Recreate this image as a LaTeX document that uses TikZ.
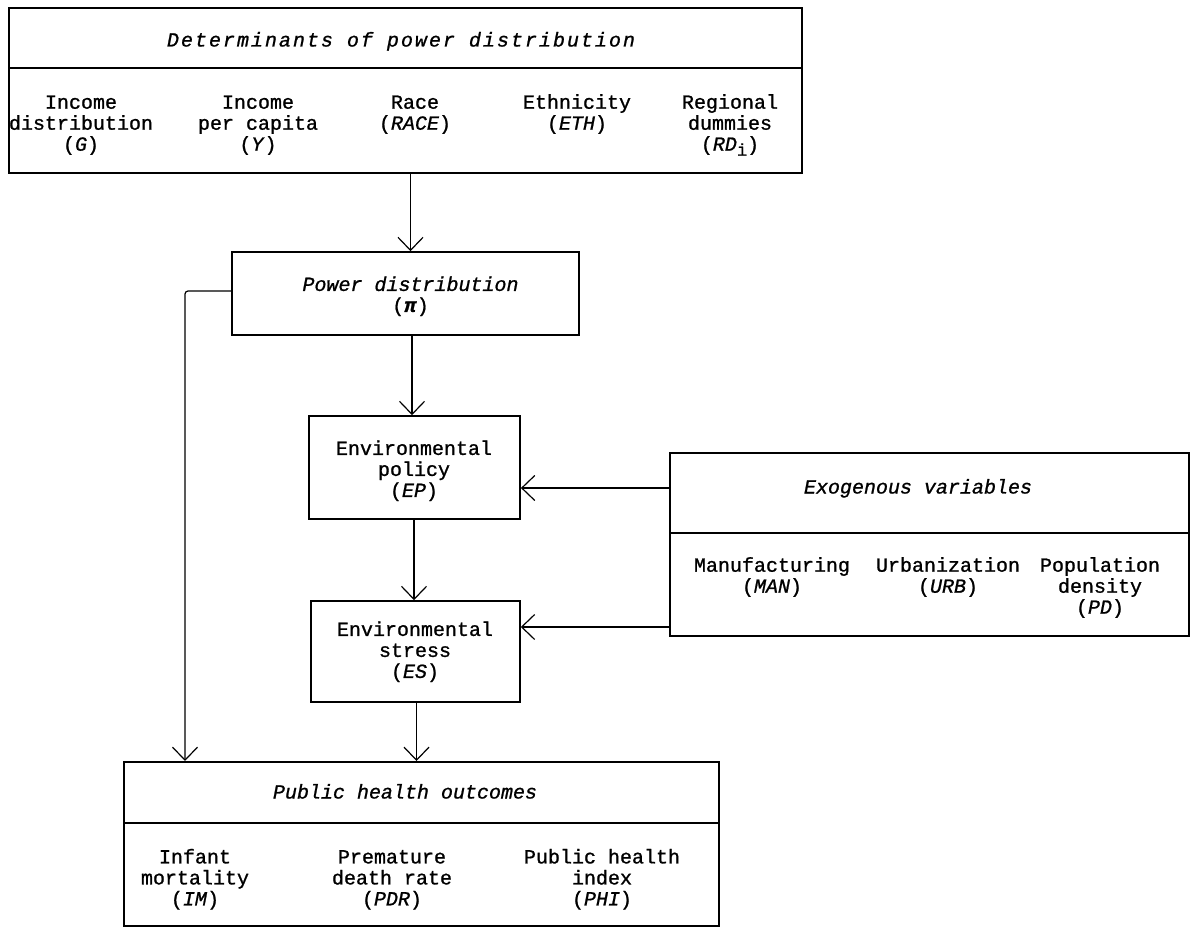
\documentclass[tikz,border=0pt]{standalone}
\usepackage{fontspec}
\setmainfont[FakeBold=1.0]{Liberation Mono}
\usetikzlibrary{arrows.meta}
\begin{document}
\begin{tikzpicture}[x=1pt,y=-1pt,
  box/.style={draw, line width=1.6pt, inner sep=0pt},
  txt/.style={inner sep=0pt, align=center, font=\fontsize{20}{21}\selectfont},
  item/.style={txt, anchor=north},
  divider/.style={line width=1.6pt},
  conn/.style={line width=1.2pt},
  arr/.style={conn, -{Straight Barb[length=13pt,width=25pt,line width=1.2pt]}}]
\useasboundingbox[fill=white] (0,0) rectangle (1191,928);

% ---------- determinants box ----------
\node[box, anchor=north west, minimum width=793pt, minimum height=165pt] (det) at (8,7) {};
\draw[divider] (8,68) -- (801,68);
\node[txt, anchor=base] (dett) at (402,46.5) {\addfontfeatures{LetterSpace=10}\textit{Determinants of power distribution}};
\node[item] (g) at (81,93.8) {\strut Income\\\strut distribution\\\strut(\textit{G})};
\node[item] (y) at (258,93.8) {\strut Income\\\strut per capita\\\strut(\textit{Y})};
\node[item] (race) at (415,93.8) {\strut Race\\\strut(\textit{RACE})};
\node[item] (eth) at (577,93.8) {\strut Ethnicity\\\strut(\textit{ETH})};
\node[item] (rd) at (730,93.8) {\strut Regional\\\strut dummies\\\strut(\textit{RD}\raisebox{-5pt}{\fontsize{17}{17}\selectfont i})};

% ---------- power distribution ----------
\node[box, minimum width=347pt, minimum height=83pt] (pow) at (405.5,293.5) {};
\node[item] (powt) at (410.5,276) {\strut\textit{Power distribution}\\\strut(\textbf{\textit{π}})};

% ---------- environmental policy / stress ----------
\node[box, minimum width=211pt, minimum height=103pt] (ep) at (414.6,467.5) {};
\node[item] (ept) at (414,440) {\strut Environmental\\\strut policy\\\strut(\textit{EP})};
\node[box, minimum width=209pt, minimum height=101pt] (es) at (415.5,651.5) {};
\node[item] (est) at (415,621) {\strut Environmental\\\strut stress\\\strut(\textit{ES})};

% ---------- exogenous variables ----------
\node[box, anchor=north west, minimum width=519pt, minimum height=183pt] (exo) at (669,452) {};
\draw[divider] (669,533) -- (1188,533);
\node[txt, anchor=base] (exot) at (918,493.5) {\textit{Exogenous variables}};
\node[item] (man) at (772,556.8) {\strut Manufacturing\\\strut(\textit{MAN})};
\node[item] (urb) at (948,556.8) {\strut Urbanization\\\strut(\textit{URB})};
\node[item] (pd) at (1100,556.8) {\strut Population\\\strut density\\\strut(\textit{PD})};

% ---------- public health outcomes ----------
\node[box, anchor=north west, minimum width=595pt, minimum height=164pt] (health) at (123,761) {};
\draw[divider] (123,823) -- (718,823);
\node[txt, anchor=base] (healtht) at (405,798.5) {\textit{Public health outcomes}};
\node[item] (im) at (195,848.5) {\strut Infant\\\strut mortality\\\strut(\textit{IM})};
\node[item] (pdr) at (392,848.5) {\strut Premature\\\strut death rate\\\strut(\textit{PDR})};
\node[item] (phi) at (602,848.5) {\strut Public health\\\strut index\\\strut(\textit{PHI})};

% ---------- connectors ----------
\coordinate (xa) at (410.5,0);
\coordinate (xb) at (412,0);
\coordinate (xc) at (414,0);
\coordinate (xd) at (416.5,0);
\coordinate (xl) at (185,0);
\coordinate (ya) at (0,291);
\coordinate (yb) at (0,488);
\coordinate (yc) at (0,627);
\draw[arr] (det.south -| xa) -- (pow.north -| xa);
\draw[arr] (pow.south -| xb) -- (ep.north -| xb);
\draw[arr] (ep.south -| xc) -- (es.north -| xc);
\draw[arr] (es.south -| xd) -- (health.north -| xd);
\draw[arr, rounded corners=3pt] (pow.west |- ya) -| (health.north -| xl);
\draw[arr] (exo.west |- yb) -- (ep.east |- yb);
\draw[arr] (exo.west |- yc) -- (es.east |- yc);
\end{tikzpicture}
\end{document}
